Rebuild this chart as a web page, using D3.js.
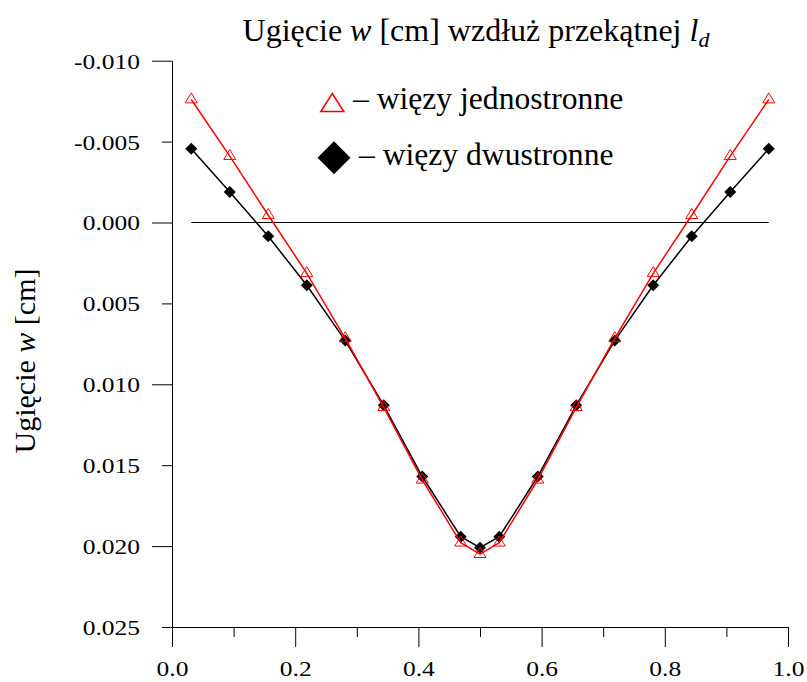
<!DOCTYPE html>
<html>
<head>
<meta charset="utf-8">
<script src="https://cdn.jsdelivr.net/npm/d3@7"></script>
<style>
  body { margin: 0; background: #fff; }
  svg { display: block; }
  text { font-family: "Liberation Serif", "Times New Roman", serif; fill: #000; }
</style>
</head>
<body>
<script>
// positions along the diagonal (fraction of l_d)
var xs = [0.03125, 0.09375, 0.15625, 0.21875, 0.28125, 0.34375, 0.40625, 0.46875, 0.5,
          0.53125, 0.59375, 0.65625, 0.71875, 0.78125, 0.84375, 0.90625, 0.96875];
// deflection w [cm], one-sided constraints
var jednostronne = [-0.0076, -0.0041, -0.00045, 0.00314, 0.00716, 0.01142, 0.0159, 0.01979, 0.0205,
                    0.01979, 0.0159, 0.01142, 0.00716, 0.00314, -0.00045, -0.0041, -0.0076];
// deflection w [cm], two-sided constraints
var dwustronne = [-0.00456, -0.00188, 0.00085, 0.00388, 0.0073, 0.0113, 0.0157, 0.01942, 0.0201,
                  0.01942, 0.0157, 0.0113, 0.0073, 0.00388, 0.00085, -0.00188, -0.00456];
var xTicks = [0, 0.1, 0.2, 0.3, 0.4, 0.5, 0.6, 0.7, 0.8, 0.9, 1.0];
var xLabels = [0, 0.2, 0.4, 0.6, 0.8, 1.0];
var yTicks = [-0.010, -0.005, 0.000, 0.005, 0.010, 0.015, 0.020, 0.025];
var yLong = [-0.010, 0.000, 0.010, 0.020]; // long ticks

var W = 807, H = 682;
var sx = 1.16; // tick labels are a bit wide

var svg = d3.select("body").append("svg")
  .attr("width", W)
  .attr("height", H);

var x = d3.scaleLinear().domain([0, 1]).range([172, 788]);
var y = d3.scaleLinear().domain([-0.010, 0.025]).range([60.7, 627]);

function inList(list, d) {
  return list.some(function(v){ return Math.abs(v - d) < 1e-9; });
}

// y axis
var yAxis = svg.append("g")
  .attr("transform", "translate(172,0)")
  .call(d3.axisLeft(y).tickValues(yTicks).tickSize(20).tickSizeOuter(0)
        .tickFormat(function(d){ return d3.format(".3f")(d).replace("\u2212", "-"); }));
yAxis.select(".domain").attr("stroke", "#000").attr("stroke-width", 1);
yAxis.selectAll(".tick line")
  .attr("stroke", "#000")
  .attr("x2", function(d){ return inList(yLong, d) ? -20 : -10; });
yAxis.selectAll(".tick text")
  .attr("font-size", 22)
  .attr("x", -32 / sx)
  .attr("dy", "0.34em")
  .attr("transform", "scale(" + sx + ",1)");

// x axis
var xAxis = svg.append("g")
  .attr("transform", "translate(0,627)")
  .call(d3.axisBottom(x).tickValues(xTicks).tickSize(20).tickSizeOuter(0)
        .tickFormat(function(d){ return inList(xLabels, d) ? d3.format(".1f")(d) : ""; }));
xAxis.select(".domain").attr("stroke", "#000").attr("stroke-width", 1);
xAxis.selectAll(".tick line")
  .attr("stroke", "#000")
  .attr("y2", function(d){ return inList(xLabels, d) ? 20 : 10; });
xAxis.selectAll(".tick text")
  .attr("font-size", 22)
  .attr("x", 0)
  .attr("y", 34)
  .attr("dy", "0.7em")
  .attr("transform", "scale(" + sx + ",1)");

// zero line over the data range
svg.append("line")
  .attr("x1", x(xs[0]))
  .attr("x2", x(xs[xs.length - 1]))
  .attr("y1", y(0))
  .attr("y2", y(0))
  .attr("stroke", "#000")
  .attr("stroke-width", 1);

var line = function(vals) {
  return d3.line()
    .x(function(d, i){ return x(xs[i]); })
    .y(function(d){ return y(d); })(vals);
};

var diamond = function(r){ return "M0," + (-r) + "L" + r + ",0L0," + r + "L" + (-r) + ",0Z"; };
var triangle = function(w, h){ return "M0," + (-h * 2 / 3) + "L" + (w / 2) + "," + (h / 3) + "L" + (-w / 2) + "," + (h / 3) + "Z"; };

// two-sided (black)
svg.append("path")
  .attr("d", line(dwustronne))
  .attr("fill", "none")
  .attr("stroke", "#000")
  .attr("stroke-width", 1.5);
svg.selectAll(".dia")
  .data(dwustronne)
  .enter().append("path")
  .attr("class", "dia")
  .attr("d", diamond(6))
  .attr("transform", function(d, i){ return "translate(" + x(xs[i]) + "," + y(d) + ")"; })
  .attr("fill", "#000");

// one-sided (red)
svg.append("path")
  .attr("d", line(jednostronne))
  .attr("fill", "none")
  .attr("stroke", "#ff0000")
  .attr("stroke-width", 1.5);
svg.selectAll(".tri")
  .data(jednostronne)
  .enter().append("path")
  .attr("class", "tri")
  .attr("d", triangle(12, 10))
  .attr("transform", function(d, i){ return "translate(" + x(xs[i]) + "," + y(d) + ")"; })
  .attr("fill", "none")
  .attr("stroke", "#ff0000")
  .attr("stroke-width", 1);

// legend
svg.append("path")
  .attr("d", triangle(23, 18))
  .attr("transform", "translate(332.3,105.5)")
  .attr("fill", "none")
  .attr("stroke", "#ff0000")
  .attr("stroke-width", 1.5);
svg.append("text")
  .attr("x", 353)
  .attr("y", 108.5)
  .attr("font-size", 31.6)
  .text("\u2013 więzy jednostronne");

svg.append("path")
  .attr("d", diamond(16.5))
  .attr("transform", "translate(334,157.7)")
  .attr("fill", "#000");
svg.append("text")
  .attr("x", 359)
  .attr("y", 165)
  .attr("font-size", 31.6)
  .text("\u2013 więzy dwustronne");

// title
var title = svg.append("text")
  .attr("x", 476)
  .attr("y", 41)
  .attr("font-size", 32)
  .attr("text-anchor", "middle");
title.append("tspan").text("Ugięcie ");
title.append("tspan").attr("font-style", "italic").text("w");
title.append("tspan").text(" [cm] wzdłuż przekątnej ");
title.append("tspan").attr("font-style", "italic").text("l");
title.append("tspan").attr("font-style", "italic").attr("font-size", 22).attr("dy", 6).text("d");

// y axis title
var ylab = svg.append("text")
  .attr("transform", "translate(35,361) rotate(-90)")
  .attr("font-size", 30)
  .attr("text-anchor", "middle");
ylab.append("tspan").text("Ugięcie ");
ylab.append("tspan").attr("font-style", "italic").text("w");
ylab.append("tspan").text(" [cm]");
</script>
</body>
</html>
